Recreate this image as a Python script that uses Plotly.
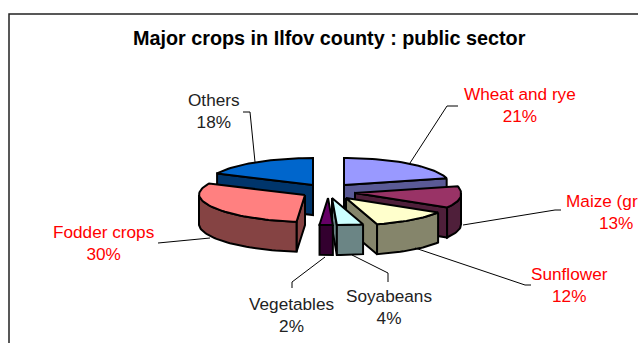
import math
import plotly.graph_objects as go

# --- data ---
categories = ["Wheat and rye", "Maize (grain)", "Sunflower", "Soyabeans", "Vegetables", "Fodder crops", "Others"]
values = [21, 13, 12, 4, 2, 30, 18]

# --- style / layout ---
top_colors = ["#9999FF", "#993366", "#FFFFCC", "#CCFFFF", "#660066", "#FF8080", "#0066CC"]
wall_colors = ["#5A5A96", "#4F1F3A", "#85856B", "#6B8585", "#33002F", "#854343", "#00356B"]
label_colors = ["#FF0000", "#FF0000", "#FF0000", "#222222", "#222222", "#FF0000", "#222222"]
apex_x = [344, 355, 346, 332, 328, 305, 313]
apex_y = [185, 193, 198, 198, 198, 195, 185]
label_x = [520, 616, 569, 389, 291, 103, 214]
label_y = [105, 212, 285, 307, 315, 243, 111]
leader_x = [[410, 447, 458], [463, 555, 561], [415, 525, 531], [352, 388, 388], [325, 292, 292], [210, 158], [255, 250, 243]]
leader_y = [[163, 106, 106], [225, 210, 210], [248, 285, 285], [255, 273, 282], [257, 282, 288], [238, 243], [162, 112, 112]]
draw_order = [0, 6, 1, 2, 5, 3, 4]
RX, RY, DEPTH, SKEW = 106, 27, 30, 0.18


def point(i, angle):
    """Screen position of a rim point of slice i at clockwise angle (radians) from 12 o'clock."""
    dy = -RY * math.cos(angle)
    return apex_x[i] + RX * math.sin(angle) + SKEW * max(dy, 0), apex_y[i] + dy


total = sum(values)
starts, acc = [], 0
for v in values:
    starts.append(acc / total * 2 * math.pi)
    acc += v


def arc(i, a0, a1):
    n = max(2, int(abs(a1 - a0) * 30))
    return [point(i, a0 + (a1 - a0) * k / n) for k in range(n + 1)]


def poly(fig, pts, fill):
    fig.add_trace(go.Scatter(
        x=[p[0] for p in pts] + [pts[0][0]], y=[p[1] for p in pts] + [pts[0][1]],
        mode="lines", fill="toself", fillcolor=fill,
        line=dict(color="#000000", width=2), hoverinfo="skip", showlegend=False))


def wall(fig, a, b, fill):
    poly(fig, [a, b, (b[0], b[1] + DEPTH), (a[0], a[1] + DEPTH)], fill)


fig = go.Figure()
for i in draw_order:
    a0 = starts[i]
    a1 = a0 + values[i] / total * 2 * math.pi
    apex = (apex_x[i], apex_y[i])
    p0, p1 = point(i, a0), point(i, a1)
    # radial walls that face the viewer
    if p0[0] < apex[0]:
        wall(fig, apex, p0, wall_colors[i])
    if p1[0] > apex[0]:
        wall(fig, p1, apex, wall_colors[i])
    # rim wall on the front half of the pie
    lo, hi = max(a0, math.pi / 2), min(a1, 1.5 * math.pi)
    if hi > lo:
        rim = arc(i, lo, hi)
        bottom = [(x, y + DEPTH) for x, y in reversed(rim)]
        poly(fig, rim + bottom, wall_colors[i])
    poly(fig, [apex] + arc(i, a0, a1), top_colors[i])

for xs, ys in zip(leader_x, leader_y):
    fig.add_trace(go.Scatter(x=xs, y=ys, mode="lines", line=dict(color="#000000", width=1),
                             hoverinfo="skip", showlegend=False))

for i, c in enumerate(categories):
    fig.add_annotation(x=label_x[i], y=label_y[i], xref="x", yref="y",
                       text=f"{c}<br>{values[i]}%", showarrow=False, align="center",
                       font=dict(family="Liberation Sans", size=17.2, color=label_colors[i]))

fig.add_annotation(x=329, y=38, xref="x", yref="y", text="<b>Major crops in Ilfov county : public sector</b>",
                   showarrow=False, font=dict(family="Liberation Sans", size=19.8, color="#000000"))

fig.add_shape(type="rect", x0=9, y0=14, x1=700, y1=420, xref="x", yref="y",
              line=dict(color="#222222", width=1.5), fillcolor="rgba(0,0,0,0)", layer="below")

fig.update_layout(
    width=638, height=343, margin=dict(l=0, r=0, t=0, b=0),
    paper_bgcolor="#FFFFFF", plot_bgcolor="#FFFFFF", showlegend=False,
    xaxis=dict(range=[0, 638], visible=False, fixedrange=True),
    yaxis=dict(range=[343, 0], visible=False, fixedrange=True),
)
fig.write_html("out.html", config={"displayModeBar": False},
               post_script="document.body.style.margin='0';document.documentElement.style.overflow='hidden';")
